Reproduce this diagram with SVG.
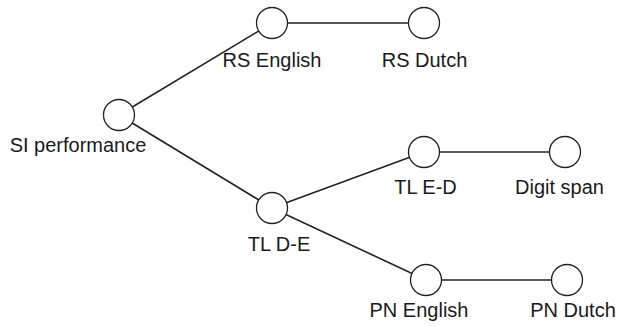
<svg xmlns="http://www.w3.org/2000/svg" width="620" height="326" viewBox="0 0 620 326">
<style>
.n{fill:#fff;stroke:#222;stroke-width:1.3}
.e{stroke:#222;stroke-width:1.6;fill:none}
text{font-family:"Liberation Sans",Arial,sans-serif;font-size:20px;fill:#1a1a1a;text-anchor:middle}
</style>
<rect width="620" height="326" fill="#fff"/>
<g id="connectors">
<line class="e" x1="119" y1="115" x2="272" y2="23"/>
<line class="e" x1="119" y1="115" x2="272" y2="208"/>
<line class="e" x1="272" y1="23" x2="424" y2="23"/>
<line class="e" x1="272" y1="208" x2="424" y2="152"/>
<line class="e" x1="272" y1="208" x2="426" y2="280"/>
<line class="e" x1="424" y1="152" x2="565" y2="152"/>
<line class="e" x1="426" y1="280" x2="567" y2="280"/>
</g>
<g id="si"><circle class="n" cx="119" cy="115" r="15.5"/><text x="78" y="152">SI performance</text></g>
<g id="rs-english"><circle class="n" cx="272" cy="23" r="15.5"/><text x="272" y="67">RS English</text></g>
<g id="rs-dutch"><circle class="n" cx="424" cy="23" r="15.5"/><text x="424.5" y="67">RS Dutch</text></g>
<g id="tl-de"><circle class="n" cx="272" cy="208" r="15.5"/><text x="279" y="251">TL D-E</text></g>
<g id="tl-ed"><circle class="n" cx="424" cy="152" r="15.5"/><text x="425.5" y="194">TL E-D</text></g>
<g id="digit-span"><circle class="n" cx="565" cy="152" r="15.5"/><text x="559.5" y="194">Digit span</text></g>
<g id="pn-english"><circle class="n" cx="426" cy="280" r="15.5"/><text x="419" y="317">PN English</text></g>
<g id="pn-dutch"><circle class="n" cx="567" cy="280" r="15.5"/><text x="573" y="317">PN Dutch</text></g>
</svg>
